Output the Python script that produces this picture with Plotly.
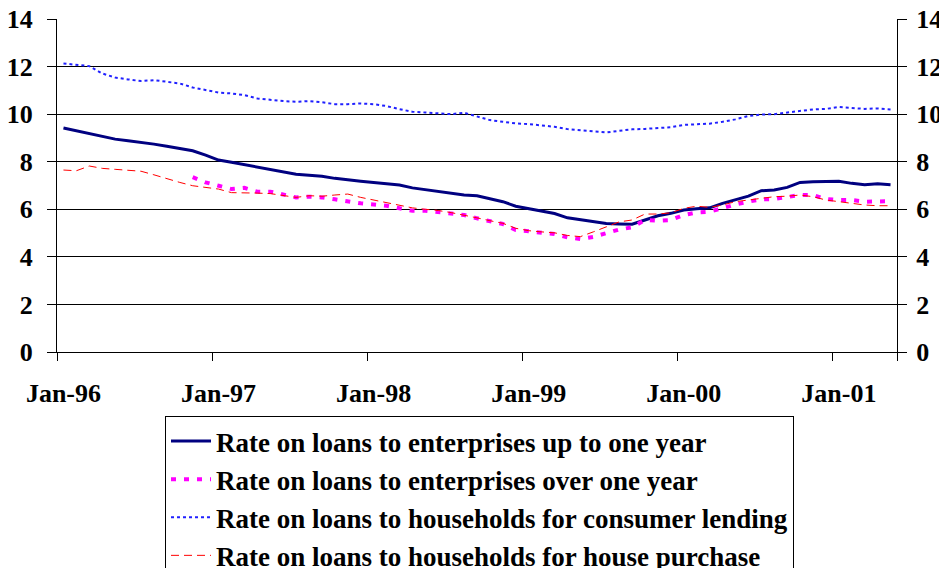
import plotly.graph_objects as go
import pandas as pd

months = [d.strftime("%b-%y") for d in pd.date_range("1996-01-01", "2001-05-01", freq="MS")]

tick_positions = [0, 12, 24, 36, 48, 60]
tick_labels = ["Jan-96", "Jan-97", "Jan-98", "Jan-99", "Jan-00", "Jan-01"]
y_ticks = [0, 2, 4, 6, 8, 10, 12, 14]

ent_short = [9.42, 9.30, 9.20, 9.05, 8.95, 8.88, 8.82, 8.74, 8.65, 8.55,
             8.46, 8.28, 8.07, 7.98, 7.88, 7.75, 7.65, 7.55, 7.47, 7.43,
             7.39, 7.30, 7.23, 7.18, 7.13, 7.09, 7.02, 6.90, 6.82, 6.73,
             6.65, 6.60, 6.57, 6.45, 6.32, 6.13, 6.02, 5.93, 5.82, 5.64,
             5.55, 5.48, 5.40, 5.38, 5.37, 5.55, 5.73, 5.83, 5.97, 6.02,
             6.06, 6.25, 6.40, 6.55, 6.78, 6.81, 6.92, 7.13, 7.16, 7.17,
             7.18, 7.09, 7.03, 7.07, 7.03]

ent_long = [None] * 10 + [
             7.35, 7.13, 6.99, 6.85, 6.90, 6.74, 6.74, 6.60, 6.50, 6.53,
             6.50, 6.42, 6.33, 6.25, 6.20, 6.15, 6.04, 5.94, 5.94, 5.88,
             5.80, 5.76, 5.62, 5.52, 5.38, 5.13, 5.06, 4.99, 4.96, 4.82,
             4.75, 4.84, 4.99, 5.15, 5.24, 5.55, 5.52, 5.55, 5.76, 5.87,
             5.90, 6.06, 6.20, 6.32, 6.42, 6.43, 6.50, 6.60, 6.60, 6.43,
             6.39, 6.39, 6.32, 6.34, 6.34]

hh_consumer = [12.13, 12.06, 12.02, 11.71, 11.54, 11.46, 11.39, 11.43, 11.37, 11.29,
               11.12, 11.01, 10.91, 10.87, 10.80, 10.66, 10.59, 10.55, 10.52, 10.55,
               10.50, 10.42, 10.42, 10.45, 10.42, 10.34, 10.21, 10.10, 10.07, 10.03,
               10.00, 10.06, 9.89, 9.75, 9.68, 9.61, 9.58, 9.54, 9.47, 9.37,
               9.33, 9.26, 9.23, 9.30, 9.36, 9.38, 9.40, 9.45, 9.55, 9.58,
               9.60, 9.68, 9.78, 9.92, 9.98, 10.00, 10.06, 10.15, 10.20, 10.22,
               10.30, 10.26, 10.22, 10.24, 10.20]

hh_house = [7.65, 7.62, 7.82, 7.72, 7.68, 7.63, 7.60, 7.45, 7.28, 7.13,
            6.99, 6.92, 6.85, 6.70, 6.70, 6.68, 6.66, 6.58, 6.50, 6.57,
            6.55, 6.60, 6.64, 6.50, 6.39, 6.25, 6.15, 6.06, 6.00, 5.95,
            5.86, 5.76, 5.64, 5.52, 5.41, 5.20, 5.10, 5.05, 5.01, 4.90,
            4.85, 5.05, 5.25, 5.47, 5.55, 5.80, 5.80, 5.85, 6.04, 6.13,
            6.08, 6.18, 6.32, 6.39, 6.46, 6.53, 6.55, 6.60, 6.53, 6.39,
            6.32, 6.25, 6.18, 6.15, 6.15]

x_idx = list(range(len(months)))
FONT = "Liberation Serif"

fig = go.Figure()
fig.add_trace(go.Scatter(x=x_idx, y=ent_short, mode="lines", customdata=months,
                         name="Rate on loans to enterprises up to one year",
                         line=dict(color="#000080", width=3), legendgroup="a"))
fig.add_trace(go.Scatter(x=x_idx, y=ent_long, mode="lines", customdata=months,
                         name="Rate on loans to enterprises over one year",
                         line=dict(color="#FF00FF", width=4, dash="5px,8px"), legendgroup="b"))
fig.add_trace(go.Scatter(x=x_idx, y=hh_consumer, mode="lines", customdata=months,
                         name="Rate on loans to households for consumer lending",
                         line=dict(color="#2020FF", width=2, dash="3px,3px"), legendgroup="c"))
fig.add_trace(go.Scatter(x=x_idx, y=hh_house, mode="lines", customdata=months,
                         name="Rate on loans to households for house purchase",
                         line=dict(color="#FF0000", width=1, dash="8px,5px"), legendgroup="d"))
# invisible trace to anchor right axis
fig.add_trace(go.Scatter(x=x_idx, y=ent_short, yaxis="y2", mode="lines",
                         line=dict(width=0), opacity=0, showlegend=False, hoverinfo="skip"))

tickfont = dict(family=FONT, size=26, color="black", weight="bold")

# page body adds an 8px offset; margins compensate so the plot area sits at x 57-897, y 19-352
fig.update_layout(
    width=947, height=568,
    margin=dict(l=49, r=58, t=11, b=224, autoexpand=False),
    paper_bgcolor="white", plot_bgcolor="white",
    xaxis=dict(range=[-0.5, 64.5], tickmode="array", tickvals=tick_positions, ticktext=tick_labels,
               ticks="outside", ticklen=0, showline=True, linecolor="black", linewidth=1,
               showgrid=False, zeroline=False, tickfont=tickfont, ticklabelstandoff=18,
               automargin=False, tickangle=0, ticklabeloverflow="allow",
               minor=dict(tickmode="array", tickvals=[p - 0.5 for p in tick_positions] + [64.5],
                          ticks="outside", ticklen=8, tickcolor="black", showgrid=False)),
    yaxis=dict(range=[0, 14], tickmode="array", tickvals=y_ticks, ticks="outside", ticklen=9,
               tickcolor="black", showline=True, linecolor="black", linewidth=1,
               showgrid=True, gridcolor="black", gridwidth=1, zeroline=False,
               tickfont=tickfont, ticklabelstandoff=9, automargin=False,
               ticklabeloverflow="allow"),
    yaxis2=dict(range=[0, 14], tickmode="array", tickvals=y_ticks, ticks="outside", ticklen=9,
                tickcolor="black", showline=True, linecolor="black", linewidth=1,
                overlaying="y", side="right", showgrid=False, zeroline=False,
                tickfont=tickfont, ticklabelstandoff=4, automargin=False,
                ticklabeloverflow="allow"),
    legend=dict(x=(165 - 57) / 840, y=-(416 - 352) / 333,
                xanchor="left", yanchor="top",
                bordercolor="black", borderwidth=1, bgcolor="white",
                font=dict(family=FONT, size=27, color="black", weight="bold"),
                traceorder="grouped", tracegroupgap=0, itemwidth=40),
    showlegend=True,
)

fig.write_html("out.html")
